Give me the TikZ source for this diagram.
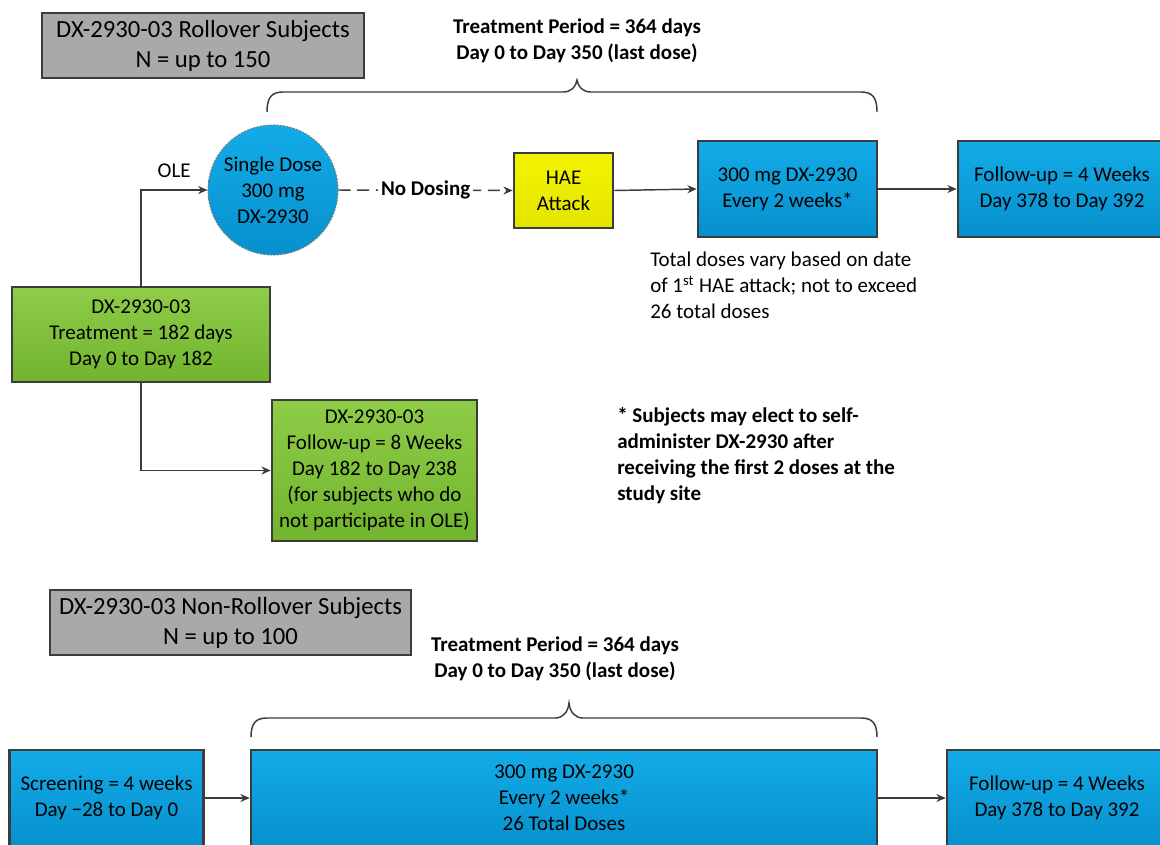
\documentclass[tikz,border=0pt]{standalone}
\usepackage{fontspec}
\setmainfont{Carlito}
\usetikzlibrary{arrows.meta}
\definecolor{bdr}{HTML}{3C3C3C}
\definecolor{blueT}{HTML}{12ACE8}
\definecolor{blueB}{HTML}{0790CE}
\definecolor{greenT}{HTML}{8FCC48}
\definecolor{greenB}{HTML}{72B42E}
\definecolor{yelT}{HTML}{F4F400}
\definecolor{yelB}{HTML}{E4E400}
\definecolor{grayF}{HTML}{A9A9A9}
\begin{document}
\begin{tikzpicture}[x=0.75pt,y=-0.75pt,
  every node/.style={font=\fontsize{15.75}{19.5}\selectfont, text=black, align=center, inner sep=0pt},
  sz/.style 2 args={minimum width=#1*0.75pt, minimum height=#2*0.75pt},
  boxbase/.style={draw=bdr, line width=1.9pt, rectangle},
  bluebox/.style={boxbase, top color=blueT, bottom color=blueB},
  greenbox/.style={boxbase, top color=greenT, bottom color=greenB},
  yelbox/.style={boxbase, top color=yelT, bottom color=yelB},
  graybox/.style={draw=bdr, line width=1.1pt, fill=grayF, rectangle, font=\fontsize{18.5}{22.5}\selectfont},
  title/.style={font=\fontsize{15.75}{19.5}\selectfont\bfseries},
  arr/.style={draw=bdr, line width=1.1pt, -{Stealth[length=7pt,width=6pt]}},
  dasharr/.style={arr, dash pattern=on 9pt off 5pt},
  bracepath/.style={draw=bdr, line width=1.1pt}
]
\useasboundingbox (0,0) rectangle (1160,844);
\clip (0,0) rectangle (1160,844);

% ---------- Rollover section ----------
\node[graybox, sz={322}{65}] (gray1) at (203,45.5) {DX-2930-03 Rollover Subjects\\N = up to 150};
\node[title] (t1) at (577,41) {Treatment Period = 364 days\\Day 0 to Day 350 (last dose)};
\draw[bracepath] (267,112) .. controls (267,97) and (272,92) .. (283,92) -- (563,92)
  .. controls (571,92) and (576,87) .. (577,80) .. controls (578,87) and (583,92) .. (591,92)
  -- (861,92) .. controls (872,92) and (877,97) .. (877,112);

\node[circle, draw=gray, line width=0.8pt, dash pattern=on 1.5pt off 1pt, top color=blueT, bottom color=blueB, minimum size=130*0.75pt] (sd) at (273,190) {Single Dose\\300 mg\\DX-2930};
\node[yelbox, sz={99}{75}] (hae) at (563.5,190.5) {HAE\\Attack};
\node[bluebox, sz={179}{96}] (d300) at (787.5,189) {300 mg DX-2930\\Every 2 weeks*};
\node[bluebox, sz={208}{96}] (fu1) at (1062,189) {Follow-up = 4 Weeks\\Day 378 to Day 392};
\node[anchor=west, align=left] (note1) at (650,285.5) {Total doses vary based on date\\of 1\textsuperscript{st} HAE attack; not to exceed\\26 total doses};

\node[greenbox, sz={258}{95}] (g1) at (141,334.5) {DX-2930-03\\Treatment = 182 days\\Day 0 to Day 182};
\node[greenbox, sz={205}{141}] (g2) at (374.5,470.5) {DX-2930-03\\Follow-up = 8 Weeks\\Day 182 to Day 238\\(for subjects who do\\not participate in OLE)};
\node[anchor=west, align=left, title] (note2) at (617,455.5) {* Subjects may elect to self-\\administer DX-2930 after\\receiving the first 2 doses at the\\study site};

\draw[arr] (g1.north) |- node[pos=0.75, above=9pt] {OLE} (sd.west);
\draw[dasharr] (sd.east) -- node[fill=white, inner xsep=2pt, inner ysep=3pt, title] {No Dosing} (hae.west);
\draw[arr] (hae.east) -- (d300.west);
\draw[arr] (d300.east) -- (fu1.west);
\draw[arr] (g1.south) |- (g2.west);

% ---------- Non-rollover section ----------
\node[graybox, sz={361}{65}] (gray2) at (230.5,622.5) {DX-2930-03 Non-Rollover Subjects\\N = up to 100};
\node[title] (t2) at (555,659) {Treatment Period = 364 days\\Day 0 to Day 350 (last dose)};
\draw[bracepath] (251,737) .. controls (251,723) and (256,718) .. (267,718) -- (555,718)
  .. controls (563,718) and (568,712) .. (569,703) .. controls (570,712) and (575,718) .. (583,718)
  -- (861,718) .. controls (872,718) and (877,723) .. (877,737);

\node[bluebox, sz={194}{96}] (scr) at (106.5,798) {Screening = 4 weeks\\Day −28 to Day 0};
\node[bluebox, sz={626}{96}] (big) at (564,798) {300 mg DX-2930\\Every 2 weeks*\\26 Total Doses};
\node[bluebox, sz={220}{96}] (fu2) at (1057,798) {Follow-up = 4 Weeks\\Day 378 to Day 392};

\draw[arr] (scr.east) -- (big.west);
\draw[arr] (big.east) -- (fu2.west);
\end{tikzpicture}
\end{document}
